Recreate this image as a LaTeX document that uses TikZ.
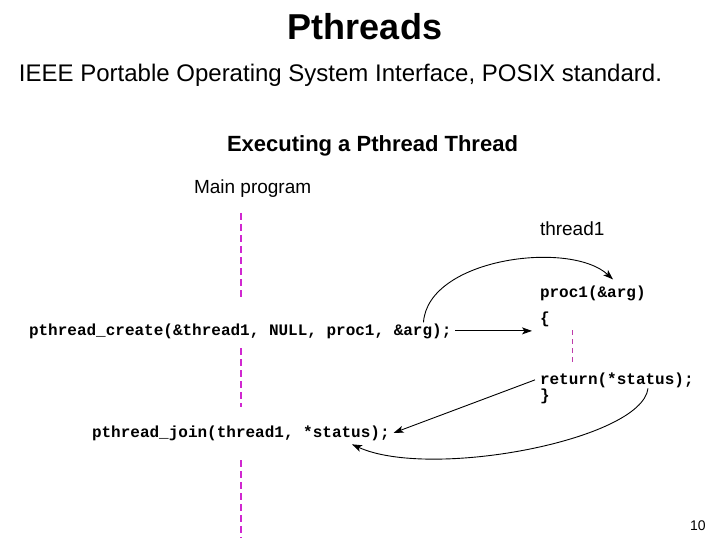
\documentclass[tikz,border=0pt]{standalone}
\usepackage{fontspec}
\setmainfont{Liberation Sans}
\newfontfamily\codefont{Liberation Mono}
\usetikzlibrary{arrows.meta}
\definecolor{lifeline}{RGB}{208,40,208}
\definecolor{thinlife}{RGB}{190,60,170}
\begin{document}
\begin{tikzpicture}[x=1pt,y=-1pt,
  txt/.style={anchor=base west,inner sep=0pt,outer sep=0pt},
  code/.style={txt,font=\codefont\bfseries\fontsize{16}{18}\selectfont},
  arr/.style={line width=0.9pt,-{Stealth[length=10pt,width=7pt,inset=2.5pt]}},
  mainlife/.style={draw=lifeline,line width=2.5pt,dash pattern=on 7pt off 4pt},
  threadlife/.style={draw=thinlife,line width=1pt,dash pattern=on 5pt off 4pt}]
\fill[white] (0,0) rectangle (720,540);
\useasboundingbox (0,0) rectangle (720,540);
% titles
\node[inner sep=0pt,anchor=base,font=\bfseries\fontsize{36}{40}\selectfont] (title) at (365,40) {Pthreads};
\node[txt,font=\fontsize{24}{28}\selectfont] (sub) at (19,82) {IEEE Portable Operating System Interface, POSIX standard.};
\node[txt,font=\bfseries\fontsize{22}{26}\selectfont] (exec) at (227,152) {Executing a Pthread Thread};
\node[txt,font=\fontsize{19}{22}\selectfont] (mainp) at (194,194) {Main program};
\node[txt,font=\fontsize{19}{22}\selectfont] (thr) at (540,236) {thread1};
% code
\node[code] (create) at (29,335) {pthread\_create(\&thread1, NULL, proc1, \&arg);};
\node[code] (proc) at (540,297) {proc1(\&arg)};
\node[code] (lbrace) at (540,323) {\{};
\node[code] (ret) at (540,384) {return(*status);};
\node[code] (rbrace) at (540,400) {\}};
\node[code] (join) at (92,437) {pthread\_join(thread1, *status);};
\node[txt,font=\fontsize{14}{16}\selectfont] (pnum) at (690,530) {10};
% lifelines
\coordinate (m1) at (241,213); \coordinate (m2) at (241,298);
\coordinate (m3) at (241,348); \coordinate (m4) at (241,407);
\coordinate (m5) at (241,460); \coordinate (m6) at (241,538);
\draw[mainlife] (m1) -- (m2);
\draw[mainlife] (m3) -- (m4);
\draw[mainlife] (m5) -- (m6);
\coordinate (t1) at (572,330); \coordinate (t2) at (572,363);
\draw[threadlife] (t1) -- (t2);
% connectors
\draw[arr] ([xshift=4pt]create.east) -- ([xshift=-8pt]lbrace.west |- create.east);
\draw[arr] ([xshift=-28pt,yshift=1pt]create.north east) .. controls (428,258) and (570,240) .. ([xshift=73pt,yshift=6pt]proc.north west);
\draw[arr] ([xshift=-5pt]ret.west) -- ([xshift=4pt]join.east);
\draw[arr] ([xshift=108pt,yshift=-1pt]ret.south west) .. controls (642,440) and (430,480) .. ([xshift=260pt,yshift=-4pt]join.south west);
\end{tikzpicture}
\end{document}
